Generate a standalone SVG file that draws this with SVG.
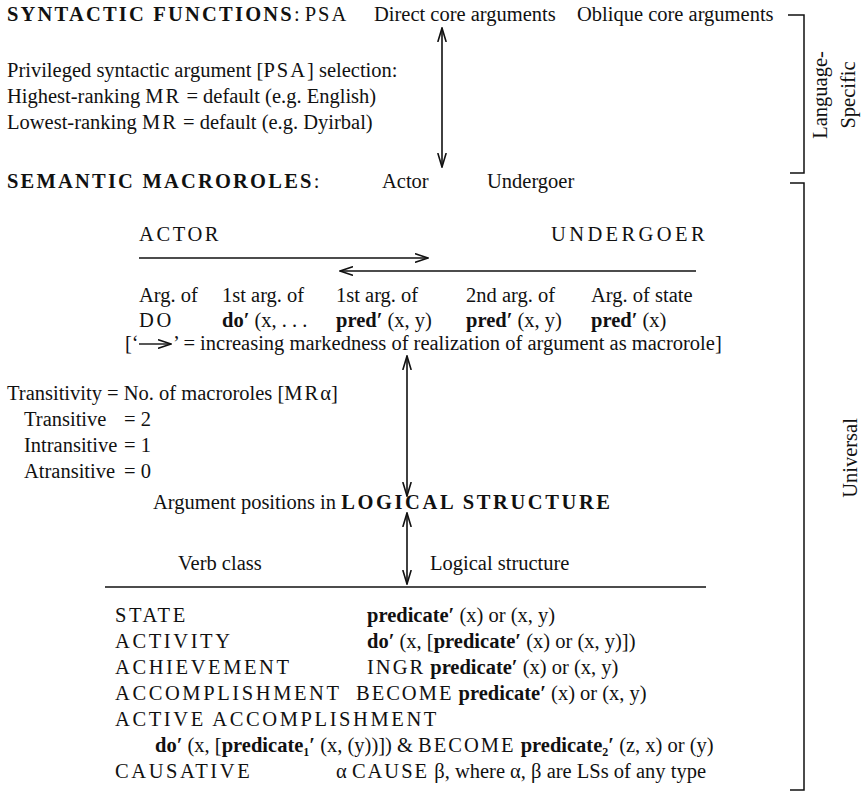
<svg xmlns="http://www.w3.org/2000/svg" width="864" height="797" viewBox="0 0 864 797">
  <style>
    text { font-family: "Liberation Serif", "Times New Roman", serif; font-size: 20.5px; fill: #111; }
    .hd { font-weight: bold; letter-spacing: 2.2px; }
    .sc { letter-spacing: 2.6px; }
    .b { font-weight: bold; }
    .sp { letter-spacing: 2px; }
    .sub { font-size: 12px; font-weight: bold; }
    .ln { stroke: #111; stroke-width: 1.6; fill: none; }
    .br { stroke: #111; stroke-width: 1.5; fill: none; }
  </style>
  <defs>
    <marker id="head" viewBox="0 0 14 10" markerWidth="14" markerHeight="10" refX="13" refY="5" orient="auto-start-reverse" markerUnits="userSpaceOnUse">
      <path d="M0,0.6 L13,5 L0,9.4" fill="none" stroke="#111" stroke-width="1.5"/>
    </marker>
    <marker id="vhead" viewBox="0 0 15 10" markerWidth="15" markerHeight="10" refX="14" refY="5" orient="auto-start-reverse" markerUnits="userSpaceOnUse">
      <path d="M0,0.8 L14,5 L0,9.2" fill="none" stroke="#111" stroke-width="1.6"/>
    </marker>
  </defs>

  <!-- syntactic functions -->
  <g id="syntactic-functions">
    <text x="7" y="21"><tspan class="hd">SYNTACTIC FUNCTIONS</tspan>: <tspan class="sp">PSA</tspan></text>
    <text x="374" y="21">Direct core arguments</text>
    <text x="577" y="21">Oblique core arguments</text>
  </g>

  <g id="psa-selection">
    <text x="7" y="77">Privileged syntactic argument [<tspan class="sp">PSA</tspan>] selection:</text>
    <text x="7" y="103">Highest-ranking <tspan class="sp">MR</tspan> = default (e.g. English)</text>
    <text x="7" y="129">Lowest-ranking <tspan class="sp">MR</tspan> = default (e.g. Dyirbal)</text>
  </g>

  <g id="semantic-macroroles">
    <text x="7" y="188"><tspan class="hd">SEMANTIC MACROROLES</tspan>:</text>
    <text x="382" y="188">Actor</text>
    <text x="487" y="188">Undergoer</text>
  </g>

  <!-- actor-undergoer hierarchy -->
  <g id="hierarchy">
    <text x="139" y="241" class="sc">ACTOR</text>
    <text x="551" y="241" class="sc" style="letter-spacing:3.4px">UNDERGOER</text>
    <text x="139" y="302">Arg. of</text>
    <text x="222" y="302">1st arg. of</text>
    <text x="336" y="302">1st arg. of</text>
    <text x="466" y="302">2nd arg. of</text>
    <text x="591" y="302">Arg. of state</text>
    <text x="139" y="327" class="sc">DO</text>
    <text x="222" y="327"><tspan class="b">do′</tspan> (x, . . .</text>
    <text x="336" y="327"><tspan class="b">pred′</tspan> (x, y)</text>
    <text x="466" y="327"><tspan class="b">pred′</tspan> (x, y)</text>
    <text x="591" y="327"><tspan class="b">pred′</tspan> (x)</text>
    <text x="125" y="350">[‘</text>
    <path class="ln" d="M139,344 L171,344" marker-end="url(#head)" style="stroke-width:1.4"/>
    <text x="173" y="350">’ = increasing markedness of realization of argument as macrorole]</text>
  </g>

  <g id="transitivity">
    <text x="7" y="400">Transitivity = No. of macroroles [<tspan class="sp">MR</tspan>α]</text>
    <text x="24" y="426">Transitive</text>
    <text x="124" y="426">= 2</text>
    <text x="24" y="452">Intransitive</text>
    <text x="124" y="452">= 1</text>
    <text x="24" y="478">Atransitive</text>
    <text x="124" y="478">= 0</text>
  </g>

  <g id="logical-structure">
    <text x="153" y="509">Argument positions in <tspan class="hd" style="letter-spacing:2.6px">LOGICAL STRUCTURE</tspan></text>
    <text x="178" y="570">Verb class</text>
    <text x="430" y="570">Logical structure</text>
    <line x1="105" y1="587" x2="706" y2="587" class="ln" style="stroke-width:1.5"/>
  </g>

  <g id="verb-classes">
    <text x="115" y="622" class="sc">STATE</text>
    <text x="367" y="622"><tspan class="b">predicate′</tspan> (x) or (x, y)</text>
    <text x="115" y="648" class="sc">ACTIVITY</text>
    <text x="367" y="648"><tspan class="b">do′</tspan> (x, [<tspan class="b">predicate′</tspan> (x) or (x, y)])</text>
    <text x="115" y="674" class="sc">ACHIEVEMENT</text>
    <text x="367" y="674"><tspan class="sp">INGR</tspan> <tspan class="b">predicate′</tspan> (x) or (x, y)</text>
    <text x="115" y="700" class="sc">ACCOMPLISHMENT</text>
    <text x="356" y="700"><tspan class="sp">BECOME</tspan> <tspan class="b">predicate′</tspan> (x) or (x, y)</text>
    <text x="115" y="726" class="sc">ACTIVE ACCOMPLISHMENT</text>
    <text x="155" y="752"><tspan class="b">do′</tspan> (x, [<tspan class="b">predicate</tspan><tspan class="sub" dy="4">1</tspan><tspan class="b" dy="-4">′</tspan> (x, (y))]) &amp; <tspan class="sp">BECOME</tspan> <tspan class="b">predicate</tspan><tspan class="sub" dy="4">2</tspan><tspan class="b" dy="-4">′</tspan> (z, x) or (y)</text>
    <text x="115" y="778" class="sc">CAUSATIVE</text>
    <text x="336" y="778">α <tspan class="sp">CAUSE</tspan> β, where α, β are LSs of any type</text>
  </g>

  <!-- brackets and side labels -->
  <g id="language-specific">
    <path class="br" d="M788,15 L804,15 L804,173 L790,173"/>
    <text transform="translate(827,95) rotate(-90)" text-anchor="middle">Language-</text>
    <text transform="translate(855,95) rotate(-90)" text-anchor="middle">Specific</text>
  </g>
  <g id="universal">
    <path class="br" d="M790,183 L804,183 L804,790 L790,790"/>
    <text transform="translate(857,458) rotate(-90)" text-anchor="middle">Universal</text>
  </g>

  <!-- connectors -->
  <g id="connectors">
    <path class="ln" d="M139,258 L428,258" marker-end="url(#head)"/>
    <path class="ln" d="M696,271 L340,271" marker-end="url(#head)"/>
    <path class="ln" d="M442,28 L442,167" marker-start="url(#vhead)" marker-end="url(#vhead)"/>
    <path class="ln" d="M407,356 L407,496" marker-start="url(#vhead)" marker-end="url(#vhead)"/>
    <path class="ln" d="M407,513 L407,584" marker-start="url(#vhead)" marker-end="url(#vhead)"/>
  </g>
</svg>
